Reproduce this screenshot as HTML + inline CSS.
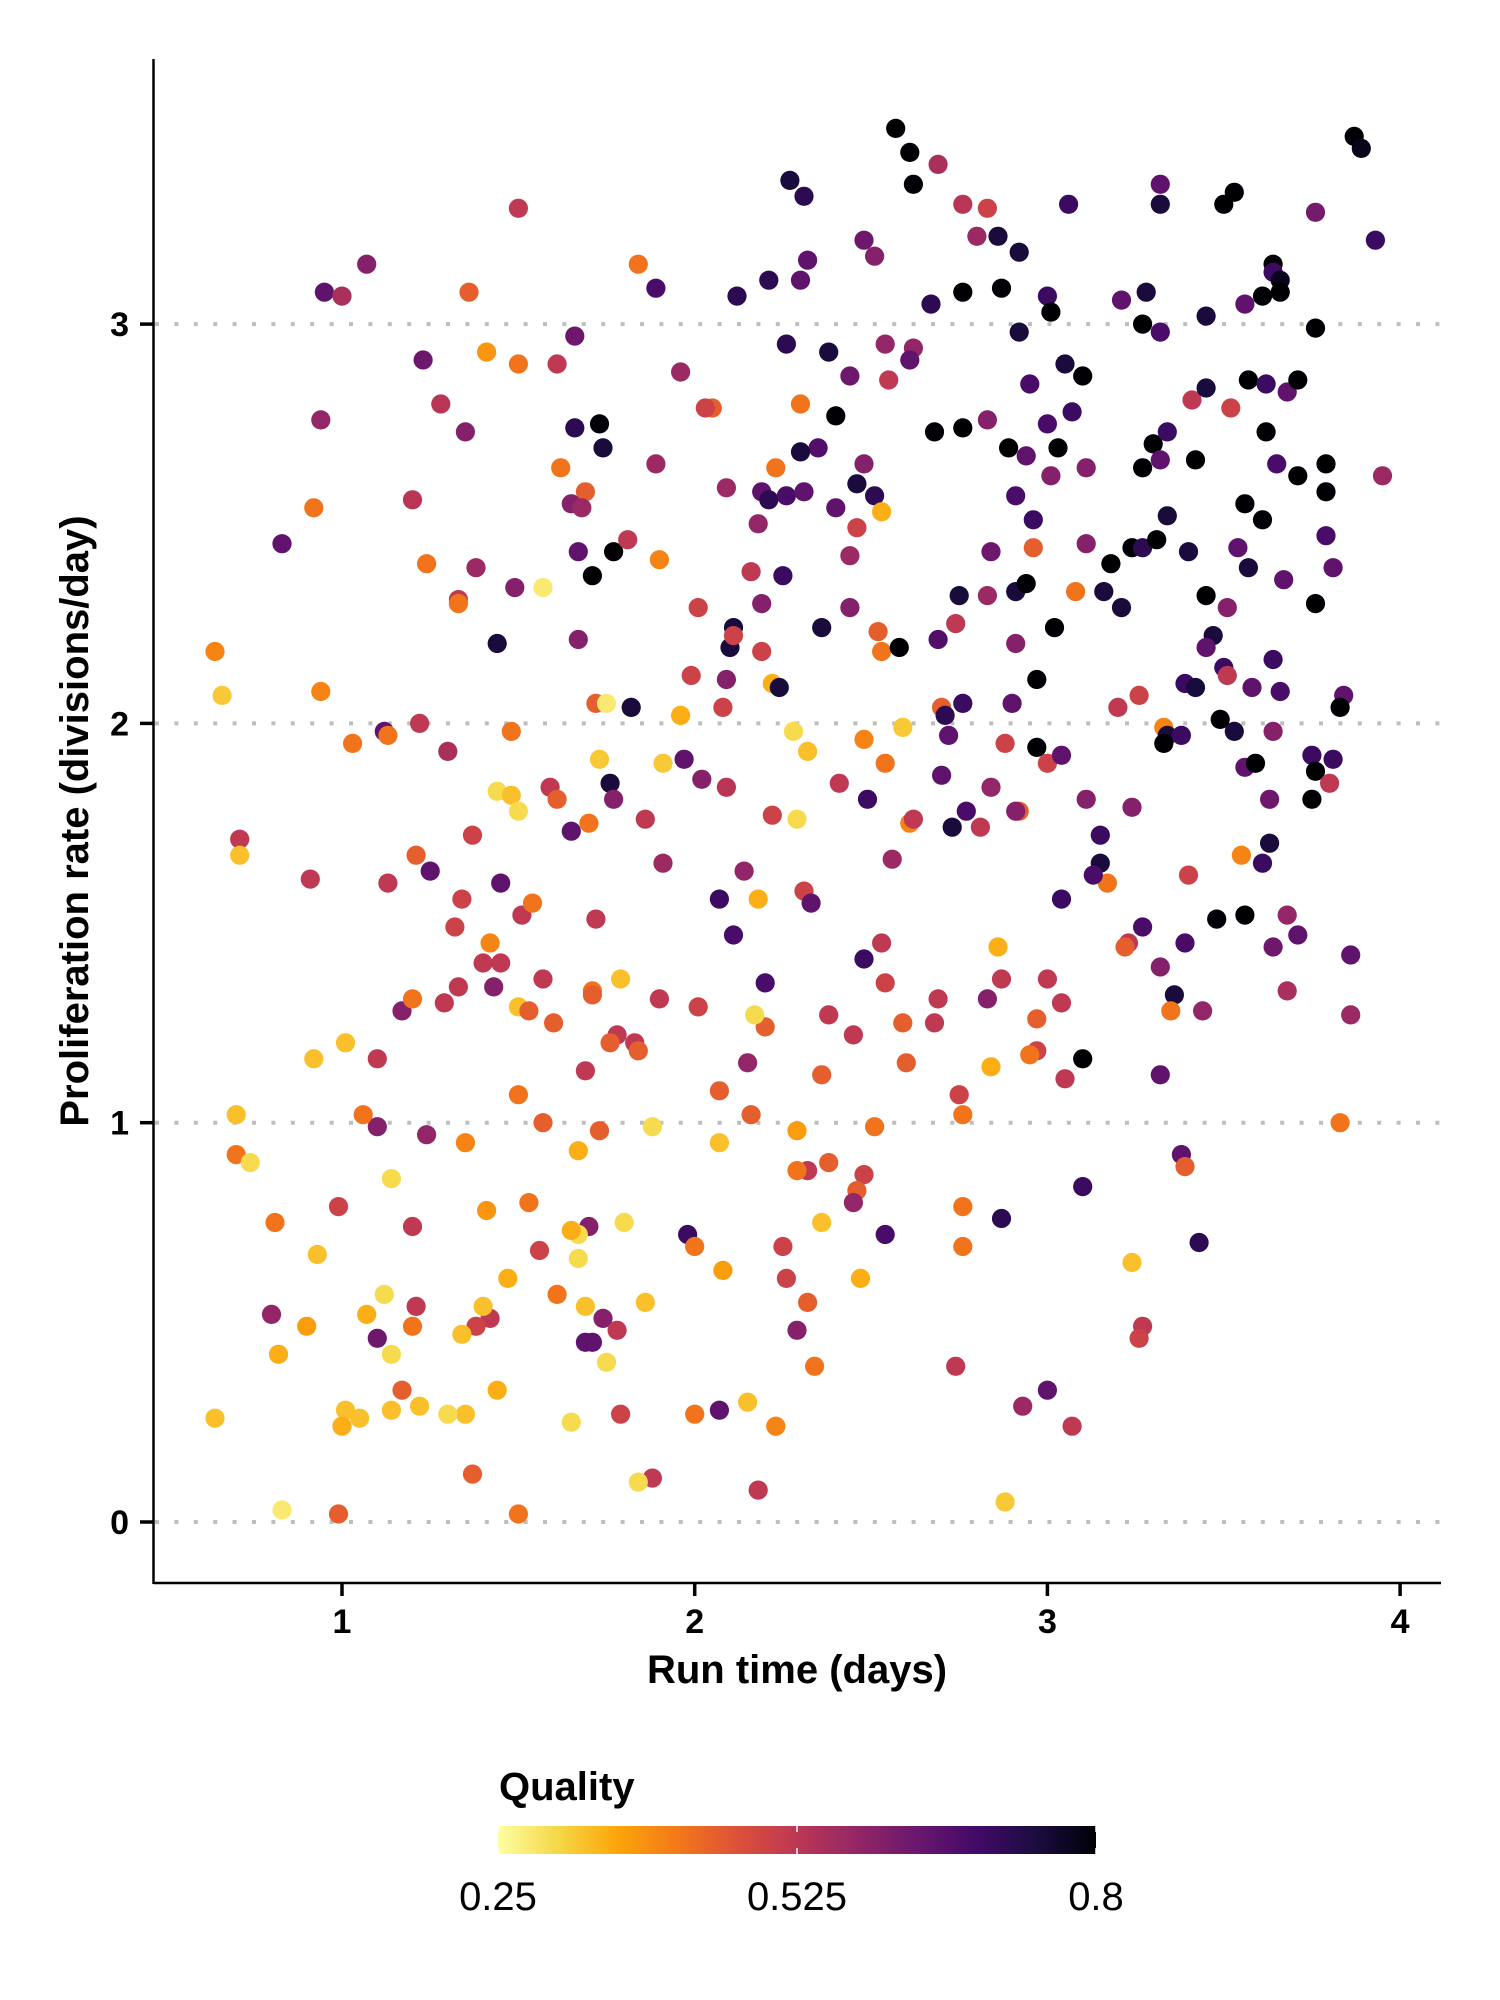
<!DOCTYPE html>
<html><head><meta charset="utf-8"><style>
html,body{margin:0;padding:0;background:#fff;}
svg{display:block;font-family:"Liberation Sans",Arial,sans-serif;}
</style></head><body>
<svg id="chart" width="1500" height="2000" viewBox="0 0 1500 2000" xmlns="http://www.w3.org/2000/svg">
<defs>
<linearGradient id="inferno" x1="0" x2="1" y1="0" y2="0">
<stop offset="0" stop-color="#fcffa4"/>
<stop offset="0.1" stop-color="#f6d746"/>
<stop offset="0.2" stop-color="#fca50a"/>
<stop offset="0.3" stop-color="#f37819"/>
<stop offset="0.4" stop-color="#dd513a"/>
<stop offset="0.5" stop-color="#bc3754"/>
<stop offset="0.6" stop-color="#932667"/>
<stop offset="0.7" stop-color="#6a176e"/>
<stop offset="0.8" stop-color="#420a68"/>
<stop offset="0.9" stop-color="#1b0c41"/>
<stop offset="1" stop-color="#000004"/>
</linearGradient>
</defs>
<g id="grid"></g>
<g id="points"></g>
<g id="axes"></g>
<text x="797" y="1683" font-size="40" font-weight="bold" text-anchor="middle">Run time (days)</text>
<text transform="translate(88,821) rotate(-90)" font-size="40" font-weight="bold" text-anchor="middle">Proliferation rate (divisions/day)</text>
<g>
<text x="499" y="1800" font-size="40" font-weight="bold">Quality</text>
<rect x="498" y="1826" width="598" height="28" fill="url(#inferno)"/>
<g id="legendTicks"></g>
</g>
</svg>
<script>
const xTicks = [1, 2, 3, 4];
const yTicks = [0, 1, 2, 3];
const qualityTicks = [0.25, 0.525, 0.8];
const qualityTickLabels = ["0.25", "0.525", "0.8"];
// [run time, proliferation rate, quality]
const samples = [
[2.57,3.49,.8],[2.61,3.43,.8],[2.62,3.35,.8],[3.87,3.47,.8],[3.89,3.44,.78],[2.27,3.36,.75],[2.31,3.32,.72],
[2.69,3.40,.55],[2.76,3.30,.53],[2.83,3.29,.5],[3.06,3.30,.7],[3.32,3.35,.65],[3.32,3.30,.75],[3.5,3.3,.8],
[3.53,3.33,.8],[3.76,3.28,.62],[3.93,3.21,.7],[1.50,3.29,.52],[1.07,3.15,.6],[0.95,3.08,.65],[1.00,3.07,.55],
[1.36,3.08,.45],[1.84,3.15,.42],[1.89,3.09,.68],[2.12,3.07,.72],[2.21,3.11,.72],[2.30,3.11,.65],[2.32,3.16,.65],
[2.48,3.21,.63],[2.51,3.17,.6],[2.80,3.22,.57],[2.86,3.22,.75],[2.92,3.18,.75],[2.87,3.09,.8],[2.76,3.08,.8],
[2.67,3.05,.72],[3.00,3.07,.7],[3.01,3.03,.8],[3.21,3.06,.65],[3.28,3.08,.75],[3.27,3.00,.8],[3.32,2.98,.68],
[3.45,3.02,.75],[3.56,3.05,.65],[3.61,3.07,.8],[3.64,3.15,.8],[3.64,3.13,.7],[3.66,3.11,.78],[3.66,3.08,.8],
[3.76,2.99,.8],[2.92,2.98,.75],[2.26,2.95,.72],[2.38,2.93,.75],[2.54,2.95,.58],[2.62,2.94,.58],[2.61,2.91,.65],
[2.44,2.87,.63],[2.55,2.86,.52],[3.05,2.90,.75],[3.10,2.87,.8],[3.07,2.78,.7],[2.95,2.85,.68],[3.00,2.75,.68],
[3.11,2.64,.6],[3.01,2.62,.6],[3.03,2.69,.8],[2.89,2.69,.8],[2.94,2.67,.65],[2.83,2.76,.6],[2.76,2.74,.8],
[2.68,2.73,.8],[2.40,2.77,.8],[2.35,2.69,.67],[2.30,2.68,.75],[2.23,2.64,.42],[2.30,2.80,.42],[2.05,2.79,.45],
[2.03,2.79,.5],[1.96,2.88,.57],[1.61,2.90,.52],[1.66,2.97,.63],[1.50,2.90,.42],[1.41,2.93,.38],[1.23,2.91,.63],
[1.28,2.80,.53],[1.35,2.73,.6],[0.94,2.76,.58],[1.66,2.74,.72],[1.73,2.75,.8],[1.74,2.69,.75],[1.62,2.64,.42],
[1.69,2.58,.45],[1.65,2.55,.6],[1.68,2.54,.57],[1.67,2.43,.65],[1.77,2.43,.8],[1.71,2.37,.8],[1.81,2.46,.52],
[1.89,2.65,.57],[1.90,2.41,.4],[1.67,2.21,.6],[1.44,2.20,.75],[1.49,2.34,.6],[1.38,2.39,.57],[1.33,2.31,.52],
[1.33,2.30,.42],[1.24,2.40,.42],[1.20,2.56,.53],[0.92,2.54,.42],[0.83,2.45,.65],[1.57,2.34,.28],[0.64,2.18,.4],
[0.66,2.07,.32],[0.94,2.08,.4],[1.03,1.95,.42],[1.12,1.98,.65],[1.13,1.97,.42],[1.22,2.00,.52],[1.30,1.93,.55],
[1.48,1.98,.42],[1.44,1.83,.3],[1.48,1.82,.33],[1.50,1.78,.3],[1.59,1.84,.52],[1.61,1.81,.45],[1.65,1.73,.65],
[1.70,1.75,.42],[1.73,1.91,.32],[1.72,2.05,.45],[1.75,2.05,.28],[1.76,1.85,.75],[1.77,1.81,.6],[1.82,2.04,.3],
[1.82,2.04,.75],[1.86,1.76,.52],[1.91,1.65,.57],[1.91,1.90,.32],[1.96,2.02,.35],[1.97,1.91,.65],[2.02,1.86,.6],
[1.99,2.12,.5],[2.01,2.29,.5],[2.11,2.24,.75],[2.10,2.19,.75],[2.09,2.11,.6],[2.08,2.04,.5],[2.09,1.84,.53],
[2.09,2.59,.57],[2.11,2.22,.5],[2.16,2.38,.52],[2.18,2.50,.58],[2.19,2.30,.6],[2.19,2.18,.5],[2.19,2.58,.65],
[2.21,2.56,.72],[2.26,2.57,.68],[2.31,2.58,.65],[2.25,2.37,.7],[2.22,2.10,.35],[2.24,2.09,.75],[2.28,1.98,.3],
[2.32,1.93,.33],[2.22,1.77,.5],[2.29,1.76,.3],[2.14,1.63,.58],[2.07,1.56,.7],[2.11,1.47,.68],[2.18,1.56,.35],
[2.31,1.58,.5],[2.33,1.55,.65],[2.41,1.85,.52],[2.46,2.60,.75],[2.51,2.57,.72],[2.40,2.54,.65],[2.48,2.65,.6],
[2.46,2.49,.5],[2.53,2.53,.35],[2.44,2.42,.57],[2.44,2.29,.6],[2.36,2.24,.75],[2.52,2.23,.45],[2.53,2.18,.42],
[2.58,2.19,.8],[2.69,2.21,.67],[2.74,2.25,.52],[2.70,2.04,.45],[2.71,2.02,.72],[2.76,2.05,.7],[2.72,1.97,.65],
[2.59,1.99,.32],[2.48,1.96,.4],[2.54,1.90,.42],[2.49,1.81,.7],[2.70,1.87,.65],[2.61,1.75,.4],[2.62,1.76,.52],
[2.56,1.66,.57],[2.73,1.74,.75],[2.77,1.78,.68],[2.81,1.74,.52],[2.84,1.84,.58],[2.88,1.95,.5],[2.92,1.78,.45],
[2.91,1.78,.6],[2.90,2.05,.65],[2.91,2.20,.6],[2.91,2.33,.75],[2.94,2.35,.8],[2.83,2.32,.57],[2.84,2.43,.63],
[2.75,2.32,.75],[2.91,2.57,.68],[2.96,2.51,.7],[2.96,2.44,.45],[2.97,2.11,.8],[2.97,1.94,.8],[3.00,1.90,.5],
[3.04,1.92,.65],[3.02,2.24,.8],[3.08,2.33,.42],[3.11,2.45,.6],[3.16,2.33,.75],[3.18,2.40,.8],[3.21,2.29,.75],
[3.24,2.44,.8],[3.27,2.44,.72],[3.31,2.46,.8],[3.34,2.52,.75],[3.27,2.64,.8],[3.30,2.70,.8],[3.32,2.66,.65],
[3.34,2.73,.7],[3.42,2.66,.8],[3.41,2.81,.52],[3.45,2.84,.75],[3.52,2.79,.5],[3.57,2.86,.8],[3.62,2.85,.7],
[3.68,2.83,.65],[3.71,2.86,.8],[3.62,2.73,.8],[3.65,2.65,.68],[3.71,2.62,.8],[3.79,2.58,.8],[3.79,2.65,.8],
[3.95,2.62,.57],[3.56,2.55,.8],[3.61,2.51,.8],[3.40,2.43,.75],[3.54,2.44,.65],[3.57,2.39,.75],[3.67,2.36,.65],
[3.81,2.39,.65],[3.79,2.47,.68],[3.76,2.30,.8],[3.45,2.32,.8],[3.51,2.29,.6],[3.47,2.22,.75],[3.45,2.19,.65],
[3.50,2.14,.7],[3.51,2.12,.52],[3.39,2.10,.7],[3.42,2.09,.75],[3.58,2.09,.65],[3.64,2.16,.7],[3.66,2.08,.68],
[3.84,2.07,.65],[3.83,2.04,.8],[3.49,2.01,.8],[3.53,1.98,.75],[3.33,1.99,.4],[3.34,1.97,.75],[3.38,1.97,.7],
[3.33,1.95,.8],[3.26,2.07,.5],[3.20,2.04,.52],[3.64,1.98,.6],[3.56,1.89,.65],[3.59,1.90,.8],[3.75,1.92,.7],
[3.81,1.91,.7],[3.76,1.88,.8],[3.80,1.85,.52],[3.75,1.81,.8],[3.63,1.81,.63],[3.11,1.81,.6],[3.24,1.79,.6],
[3.15,1.72,.7],[3.15,1.65,.75],[3.17,1.60,.42],[3.13,1.62,.68],[3.04,1.56,.7],[3.55,1.67,.4],[3.63,1.70,.75],
[3.61,1.65,.7],[3.40,1.62,.5],[3.68,1.52,.58],[3.71,1.47,.65],[3.56,1.52,.8],[3.48,1.51,.8],[3.27,1.49,.68],
[3.23,1.45,.52],[3.22,1.44,.45],[3.39,1.45,.68],[3.32,1.39,.6],[3.86,1.42,.65],[3.64,1.44,.63],[3.36,1.32,.75],
[3.35,1.28,.42],[3.44,1.28,.58],[3.68,1.33,.55],[3.86,1.27,.57],[3.04,1.30,.52],[3.00,1.36,.52],[3.10,1.16,.8],
[3.05,1.11,.52],[3.32,1.12,.65],[3.83,1.00,.42],[3.38,0.92,.65],[3.39,0.89,.45],[3.10,0.84,.7],[3.43,0.70,.72],
[3.24,0.65,.33],[3.27,0.49,.52],[3.26,0.46,.5],[3.00,0.33,.65],[2.93,0.29,.57],[3.07,0.24,.52],[2.88,0.05,.32],
[2.87,0.76,.72],[2.97,1.18,.5],[2.95,1.17,.42],[2.97,1.26,.45],[2.87,1.36,.52],[2.86,1.44,.35],[2.84,1.14,.35],
[2.83,1.31,.6],[2.75,1.07,.5],[2.76,1.02,.42],[2.76,0.79,.42],[2.76,0.69,.42],[2.74,0.39,.52],[2.69,1.31,.52],
[2.68,1.25,.52],[2.59,1.25,.45],[2.60,1.15,.45],[2.54,1.35,.5],[2.53,1.45,.52],[2.48,1.41,.7],[2.45,1.22,.52],
[2.38,1.27,.52],[2.36,1.12,.45],[2.38,0.90,.45],[2.51,0.99,.42],[2.48,0.87,.5],[2.46,0.83,.45],[2.45,0.80,.58],
[2.54,0.72,.68],[2.36,0.75,.33],[2.47,0.61,.35],[2.32,0.88,.52],[2.29,0.88,.42],[2.29,0.98,.37],[2.25,0.69,.5],
[2.26,0.61,.5],[2.32,0.55,.45],[2.29,0.48,.6],[2.34,0.39,.42],[2.23,0.24,.4],[2.15,0.30,.33],[2.18,0.08,.52],
[2.07,0.28,.65],[1.98,0.72,.7],[2.00,0.69,.42],[2.08,0.63,.37],[2.07,0.95,.33],[2.16,1.02,.45],[2.20,1.24,.45],
[2.17,1.27,.3],[2.15,1.15,.58],[2.07,1.08,.45],[2.20,1.35,.68],[2.01,1.29,.5],[1.90,1.31,.52],[2.00,0.27,.42],
[1.88,0.11,.52],[1.84,0.10,.3],[1.86,0.55,.33],[1.79,1.36,.33],[1.78,1.22,.52],[1.76,1.20,.45],[1.83,1.20,.52],
[1.84,1.18,.45],[1.71,1.33,.42],[1.71,1.32,.45],[1.72,1.51,.52],[1.69,1.13,.52],[1.73,0.98,.45],[1.67,0.93,.35],
[1.88,0.99,.3],[1.80,0.75,.3],[1.70,0.74,.6],[1.67,0.72,.3],[1.65,0.73,.35],[1.67,0.66,.3],[1.69,0.54,.33],
[1.74,0.51,.6],[1.78,0.48,.52],[1.69,0.45,.65],[1.71,0.45,.65],[1.75,0.40,.3],[1.79,0.27,.5],[1.65,0.25,.3],
[1.50,0.02,.42],[1.61,0.57,.42],[1.56,0.68,.5],[1.47,0.61,.35],[1.44,0.33,.35],[1.42,0.51,.52],[1.40,0.54,.33],
[1.38,0.49,.5],[1.34,0.47,.33],[1.37,0.12,.45],[1.35,0.27,.33],[1.30,0.27,.3],[1.41,0.78,.38],[1.53,0.80,.42],
[1.50,1.07,.42],[1.57,1.00,.45],[1.35,0.95,.4],[1.24,0.97,.58],[1.14,0.86,.3],[1.10,0.99,.6],[1.06,1.02,.42],
[1.10,1.16,.52],[1.01,1.20,.33],[0.92,1.16,.33],[1.20,0.74,.52],[0.99,0.79,.5],[0.93,0.67,.33],[0.81,0.75,.42],
[0.90,0.49,.37],[0.80,0.52,.58],[0.82,0.42,.35],[1.07,0.52,.35],[1.12,0.57,.3],[1.10,0.46,.63],[1.14,0.42,.3],
[1.21,0.54,.52],[1.20,0.49,.42],[1.17,0.33,.45],[1.14,0.28,.33],[1.22,0.29,.33],[1.05,0.26,.33],[1.01,0.28,.33],
[1.00,0.24,.35],[0.64,0.26,.33],[0.83,0.03,.28],[0.99,0.02,.45],[0.70,1.02,.33],[0.70,0.92,.42],[0.74,0.90,.3],
[0.71,1.71,.52],[0.71,1.67,.33],[0.91,1.61,.52],[1.13,1.60,.52],[1.21,1.67,.45],[1.25,1.63,.65],[1.17,1.28,.6],
[1.20,1.31,.42],[1.29,1.30,.52],[1.33,1.34,.52],[1.32,1.49,.5],[1.34,1.56,.5],[1.37,1.72,.5],[1.42,1.45,.4],
[1.40,1.40,.52],[1.45,1.40,.52],[1.43,1.34,.6],[1.45,1.60,.65],[1.51,1.52,.52],[1.54,1.55,.42],[1.50,1.29,.33],
[1.53,1.28,.45],[1.57,1.36,.52],[1.60,1.25,.45]
];

const NS = "http://www.w3.org/2000/svg";
const X0 = 342, XU = 352.7, Y0 = 1522, YU = 399.3;
const xScale = v => X0 + (v - 1) * XU;
const yScale = v => Y0 - v * YU;
const stops = ["#fcffa4","#f6d746","#fca50a","#f37819","#dd513a","#bc3754","#932667","#6a176e","#420a68","#1b0c41","#000004"];
function hex(h){return [1,3,5].map(i=>parseInt(h.substr(i,2),16));}
function colorScale(q){
  let f = Math.max(0, Math.min(1, (q - 0.25) / 0.55)) * (stops.length - 1);
  const i = Math.min(stops.length - 2, Math.floor(f)), t = f - i;
  const a = hex(stops[i]), b = hex(stops[i+1]);
  return "rgb(" + a.map((c,k)=>Math.round(c + (b[k]-c)*t)).join(",") + ")";
}
function mk(tag, attrs, parent){
  const el = document.createElementNS(NS, tag);
  for (const k in attrs) el.setAttribute(k, attrs[k]);
  parent.appendChild(el);
  return el;
}
const grid = document.getElementById("grid");
yTicks.forEach(t => {
  const ln = mk("line", {x1:155, x2:1441, y1:yScale(t), y2:yScale(t), stroke:"#bebebe", "stroke-width":4, "stroke-dasharray":"4 15.4"}, grid);
  
  
});
const pg = document.getElementById("points");
samples.forEach(s => {
  const c = mk("circle", {cx:xScale(s[0]).toFixed(1), cy:yScale(s[1]).toFixed(1), r:9.6, fill:colorScale(s[2])}, pg);
  
  
});
const ax = document.getElementById("axes");
const xl = mk("line", {x1:153.5, x2:1441, y1:1583, y2:1583, stroke:"#000", "stroke-width":2.5}, ax);


const yl = mk("line", {x1:153.5, x2:153.5, y1:59, y2:1584, stroke:"#000", "stroke-width":2.5}, ax);


xTicks.forEach(t => {
  const x = xScale(t);
  const tk = mk("line", {x1:x, x2:x, y1:1583, y2:1596, stroke:"#000", "stroke-width":3.5}, ax);
  
  
  const tx = mk("text", {x:x, y:1633, "font-size":34, "font-weight":"bold", "text-anchor":"middle"}, ax);
  tx.textContent = String(t);
  
  
});
yTicks.forEach(t => {
  const y = yScale(t);
  const tk = mk("line", {x1:140, x2:153, y1:y, y2:y, stroke:"#000", "stroke-width":3.5}, ax);
  
  
  const tx = mk("text", {x:129, y:y+12, "font-size":34, "font-weight":"bold", "text-anchor":"end"}, ax);
  tx.textContent = String(t);
  
  
});
const lg = document.getElementById("legendTicks");
qualityTicks.forEach((q, i) => {
  const x = 498 + (q - 0.25) / 0.55 * 598;
  const a = mk("line", {x1:x, x2:x, y1:1826, y2:1832, stroke:"#fff", "stroke-width":1.5}, lg);
  
  
  const b = mk("line", {x1:x, x2:x, y1:1848, y2:1854, stroke:"#fff", "stroke-width":1.5}, lg);
  
  
  const tx = mk("text", {x:x, y:1910, "font-size":40, "text-anchor":"middle"}, lg);
  tx.textContent = qualityTickLabels[i];
  
  
});
</script>
</body></html>
